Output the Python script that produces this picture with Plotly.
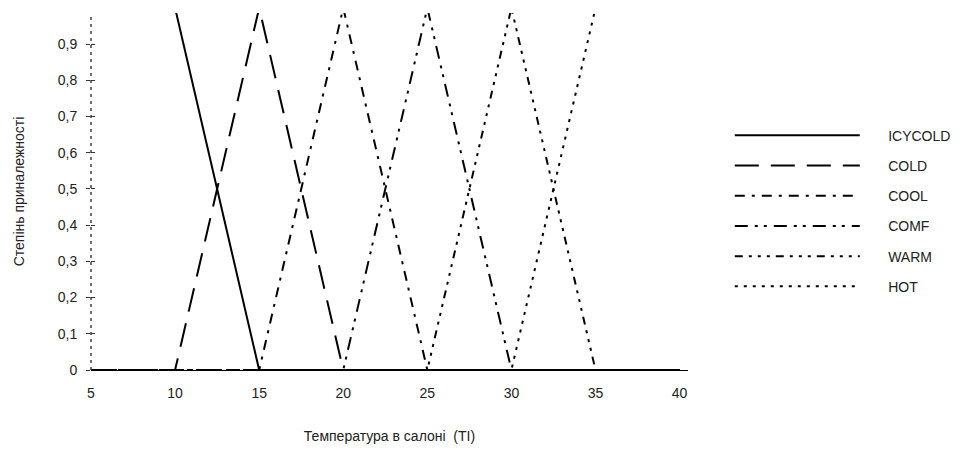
import plotly.graph_objects as go

# Break points of the membership functions (temperature, degrees)
temp = [5, 10, 15, 20, 25, 30, 35, 40]

# Membership degree of each term at the break points
icycold = [1, 1, 0, 0, 0, 0, 0, 0]
cold = [0, 0, 1, 0, 0, 0, 0, 0]
cool = [0, 0, 0, 1, 0, 0, 0, 0]
comf = [0, 0, 0, 0, 1, 0, 0, 0]
warm = [0, 0, 0, 0, 0, 1, 0, 0]
hot = [0, 0, 0, 0, 0, 0, 1, 1]

names = ["ICYCOLD", "COLD", "COOL", "COMF", "WARM", "HOT"]
series = [icycold, cold, cool, comf, warm, hot]
dashes = [
    "solid",
    "24px,12px",
    "10px,7px,3px,7px",
    "13px,7px,3px,6px,3px,7px",
    "8px,6px,3px,6px,3px,6px,3px,6px",
    "3px,6px",
]

x_ticks = [5, 10, 15, 20, 25, 30, 35, 40]
y_ticks = [0, 0.1, 0.2, 0.3, 0.4, 0.5, 0.6, 0.7, 0.8, 0.9]

FONT = "Liberation Sans, Arial, sans-serif"
INK = "#222222"
FS = 14

fig = go.Figure()
for i, (name, ys, dash) in enumerate(zip(names, series, dashes)):
    fig.add_trace(go.Scatter(
        x=temp, y=ys, name="\u00a0\u00a0\u00a0\u00a0\u00a0\u00a0" + name,
        mode="lines", legendgroup=f"g{i}",
        line=dict(color="black", width=2, dash=dash),
    ))

# dotted vertical axis line
fig.add_shape(type="line", xref="paper", yref="paper", x0=0, x1=0, y0=0, y1=1,
              line=dict(color="#222222", width=1.3, dash="3px,4px"))

fig.update_layout(
    width=972, height=450,
    margin=dict(l=91, r=284, t=13, b=80),
    paper_bgcolor="white", plot_bgcolor="white",
    separators=", ",
    font=dict(family=FONT, size=FS, color=INK),
    showlegend=True,
    legend=dict(
        x=1.07, xanchor="left", y=0.701, yanchor="top",
        itemwidth=125, tracegroupgap=9,
        font=dict(family=FONT, size=FS, color=INK),
        bgcolor="rgba(0,0,0,0)",
    ),
    xaxis=dict(
        range=[5, 40.5], tickmode="array", tickvals=x_ticks,
        showgrid=False, zeroline=False, showline=True, automargin=False,
        linecolor="black", linewidth=1, ticks="",
        ticklabelstandoff=10,
        tickfont=dict(size=FS, color=INK),
        title=dict(text="Температура в салоні  (TI)", standoff=31,
                   font=dict(size=FS, color=INK)),
    ),
    yaxis=dict(
        range=[0, 0.986], tickmode="array", tickvals=y_ticks,
        showgrid=False, zeroline=False, showline=False, automargin=False,
        ticks="outside", ticklen=4, tickcolor="#333333", tickwidth=1,
        ticklabelstandoff=6,
        tickfont=dict(size=FS, color=INK),
        title=dict(text="Степінь приналежності", standoff=29,
                   font=dict(size=FS, color=INK)),
    ),
    yaxis2=dict(
        overlaying="y", side="left", range=[0, 0.986], automargin=False,
        tickmode="array", tickvals=y_ticks, showticklabels=False,
        showgrid=False, zeroline=False, showline=False,
        ticks="inside", ticklen=4, tickcolor="#333333", tickwidth=1,
    ),
)

# invisible trace binding the second y axis so its ticks render
fig.add_trace(go.Scatter(x=[5], y=[0], yaxis="y2", mode="markers",
                         marker=dict(opacity=0), showlegend=False,
                         hoverinfo="skip"))

fig.write_html("out.html")
